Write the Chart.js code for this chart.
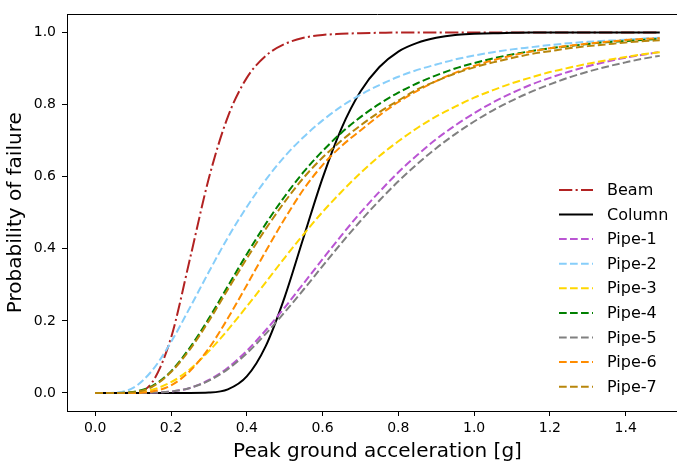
<!DOCTYPE html>
<html><head><meta charset="utf-8">
<script src="https://cdn.jsdelivr.net/npm/chart.js@4"></script>
<style>
html,body{margin:0;padding:0;overflow:hidden;background:#fff;width:677px;height:468px}
#wrap{position:relative;width:700px;height:468px}
</style>
</head><body><div id="wrap"><canvas id="c" width="700" height="468"></canvas></div>
<script>
// Peak ground acceleration sample points [g]
const pga = [0,0.05,0.1,0.15,0.2,0.25,0.3,0.35,0.4,0.45,0.5,0.55,0.6,0.65,0.7,0.75,0.8,0.85,0.9,0.95,1.0,1.05,1.1,1.15,1.2,1.25,1.3,1.35,1.4,1.45,1.49];

const beam   = [0,0,0.001,0.029,0.153,0.372,0.596,0.766,0.874,0.935,0.968,0.985,0.993,0.996,0.998,0.999,1,1,1,1,1,1,1,1,1,1,1,1,1,1,1];
const column = [0,0,0,0,0,0,0.001,0.010,0.046,0.130,0.266,0.432,0.596,0.734,0.836,0.904,0.947,0.971,0.985,0.993,0.996,0.998,0.999,1,1,1,1,1,1,1,1];
const pipe1  = [0,0,0,0.001,0.004,0.014,0.036,0.070,0.117,0.174,0.237,0.304,0.371,0.437,0.500,0.558,0.612,0.660,0.704,0.742,0.776,0.806,0.832,0.855,0.874,0.891,0.906,0.919,0.930,0.939,0.946];
const pipe2  = [0,0.001,0.014,0.062,0.141,0.237,0.336,0.431,0.516,0.591,0.656,0.710,0.756,0.795,0.827,0.854,0.877,0.896,0.911,0.925,0.936,0.945,0.953,0.959,0.965,0.970,0.974,0.977,0.980,0.983,0.985];
const pipe3  = [0,0,0.001,0.009,0.030,0.066,0.116,0.175,0.240,0.307,0.375,0.440,0.502,0.558,0.610,0.657,0.698,0.735,0.767,0.794,0.819,0.840,0.859,0.875,0.890,0.902,0.913,0.923,0.932,0.940,0.945];
const pipe4  = [0,0,0.003,0.019,0.060,0.126,0.207,0.296,0.385,0.469,0.545,0.613,0.671,0.722,0.765,0.802,0.833,0.859,0.881,0.900,0.915,0.928,0.939,0.948,0.956,0.962,0.968,0.973,0.976,0.980,0.982];
const pipe5  = [0,0,0,0.001,0.004,0.014,0.034,0.066,0.110,0.164,0.224,0.287,0.352,0.416,0.477,0.534,0.587,0.635,0.679,0.718,0.753,0.784,0.811,0.835,0.856,0.875,0.891,0.905,0.917,0.928,0.935];
const pipe6  = [0,0,0,0.004,0.021,0.061,0.124,0.207,0.299,0.393,0.483,0.565,0.632,0.685,0.728,0.770,0.807,0.838,0.865,0.888,0.907,0.923,0.936,0.947,0.956,0.963,0.969,0.974,0.979,0.982,0.984];
const pipe7  = [0,0,0.002,0.017,0.058,0.121,0.200,0.287,0.373,0.455,0.530,0.597,0.653,0.700,0.742,0.779,0.811,0.842,0.865,0.886,0.903,0.917,0.929,0.940,0.948,0.956,0.962,0.967,0.972,0.976,0.978];

const seriesNames  = ['Beam','Column','Pipe-1','Pipe-2','Pipe-3','Pipe-4','Pipe-5','Pipe-6','Pipe-7'];
const seriesValues = [beam, column, pipe1, pipe2, pipe3, pipe4, pipe5, pipe6, pipe7];

const xTicks = [0,0.2,0.4,0.6,0.8,1.0,1.2,1.4];
const yTicks = [0,0.2,0.4,0.6,0.8,1.0];

// styles
const seriesColors = ['#b22222','#000000','#ba55d3','#87cefa','#ffd700','#008000','#808080','#ff8c00','#b8860b'];
const DASH = [7.7,3.3], DASHDOT = [13.3,3.3,2.1,3.3];
const seriesDash = [DASHDOT, [], DASH, DASH, DASH, DASH, DASH, DASH, DASH];

const FONT = 'DejaVu Sans';

const framePlugin = {
  id: 'frame',
  afterDraw(chart) {
    const {ctx, chartArea: a} = chart;
    ctx.save();
    ctx.strokeStyle = '#000';
    ctx.lineWidth = 1;
    ctx.setLineDash([]);
    ctx.beginPath();
    ctx.moveTo(a.left, Math.round(a.top) + 0.5);
    ctx.lineTo(a.right, Math.round(a.top) + 0.5);
    ctx.lineTo(a.right, a.bottom);
    ctx.stroke();
    ctx.restore();
  }
};

const legendPlugin = {
  id: 'inlegend',
  afterDraw(chart) {
    const {ctx, chartArea: a} = chart;
    const ds = chart.data.datasets;
    const n = ds.length;
    const x0 = a.right - 129, x1 = x0 + 34, tx = x1 + 14;
    const step = 24.6, yb = a.bottom - 24.3;
    ctx.save();
    ctx.font = '16px "' + FONT + '"';
    ctx.textBaseline = 'middle';
    ctx.textAlign = 'left';
    ds.forEach((d, i) => {
      const y = yb - (n - 1 - i) * step;
      ctx.strokeStyle = d.borderColor;
      ctx.lineWidth = d.borderWidth;
      ctx.setLineDash(d.borderDash);
      ctx.beginPath();
      ctx.moveTo(x0, y);
      ctx.lineTo(x1, y);
      ctx.stroke();
      ctx.fillStyle = '#000';
      ctx.fillText(d.label, tx, y + 1);
    });
    ctx.restore();
  }
};

const datasets = seriesNames.map((name, i) => ({
  label: name,
  data: pga.map((x, j) => ({x: x, y: seriesValues[i][j]})),
  borderColor: seriesColors[i],
  backgroundColor: seriesColors[i],
  borderDash: seriesDash[i],
  borderWidth: 2,
  pointRadius: 0,
  fill: false,
  cubicInterpolationMode: 'monotone',
  order: seriesNames.length - 1 - i
}));

new Chart(document.getElementById('c'), {
  type: 'line',
  data: {datasets},
  options: {
    responsive: false,
    animation: false,
    events: [],
    layout: {padding: {top: 5, right: 12, left: 0, bottom: 0}},
    plugins: {legend: {display: false}, tooltip: {enabled: false}},
    scales: {
      x: {
        type: 'linear', min: -0.0745, max: 1.5645,
        afterBuildTicks: s => { s.ticks = xTicks.map(v => ({value: v})); },
        afterFit: s => { s.height = 57; },
        ticks: {font: {family: FONT, size: 14}, color: '#000', padding: 4, maxRotation: 0, autoSkip: false,
                callback: v => Number(v).toFixed(1)},
        grid: {drawOnChartArea: false, drawTicks: true, tickLength: 5, tickColor: '#000', tickWidth: 1, color: '#000'},
        border: {display: true, color: '#000', width: 1},
        title: {display: true, text: 'Peak ground acceleration [g]', font: {family: FONT, size: 20}, color: '#000',
                padding: {top: 0, bottom: 4}}
      },
      y: {
        type: 'linear', min: -0.05, max: 1.05,
        afterBuildTicks: s => { s.ticks = yTicks.map(v => ({value: v})); },
        afterFit: s => { s.width = 67; },
        ticks: {font: {family: FONT, size: 14}, color: '#000', padding: 6, autoSkip: false,
                callback: v => Number(v).toFixed(1)},
        grid: {drawOnChartArea: false, drawTicks: true, tickLength: 5, tickColor: '#000', tickWidth: 1, color: '#000'},
        border: {display: true, color: '#000', width: 1},
        title: {display: true, text: 'Probability of failure', font: {family: FONT, size: 20}, color: '#000',
                padding: {top: 4, bottom: 0}}
      }
    }
  },
  plugins: [framePlugin, legendPlugin]
});
</script>
</body></html>
